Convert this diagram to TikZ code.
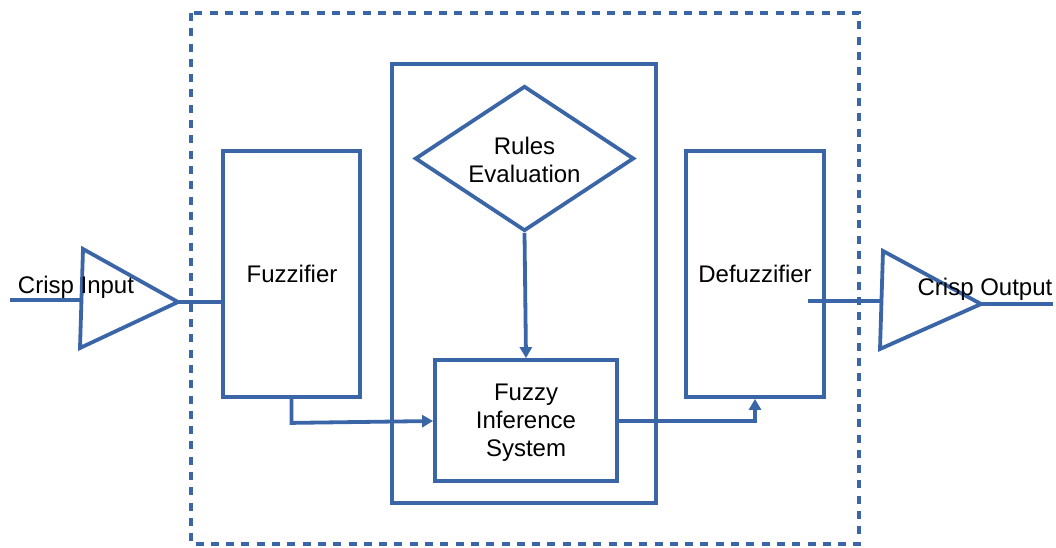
\documentclass[tikz,border=0pt]{standalone}
\usepackage{fontspec}
\setmainfont{Liberation Sans}
\usetikzlibrary{shapes.geometric,arrows.meta}
\definecolor{lineblue}{RGB}{58,102,168}
\begin{document}
\begin{tikzpicture}[x=1pt,y=-1pt,
  every node/.style={font=\fontsize{24}{28}\selectfont},
  blk/.style={draw=lineblue,line width=3.8pt,rectangle,inner sep=0pt,align=center},
  wire/.style={draw=lineblue,line width=3.8pt},
  arr/.style={wire,-{Triangle[width=12pt,length=11pt]}},
  lbl/.style={inner sep=0pt,align=center}]
\useasboundingbox (0,0) rectangle (1056,548);
% dashed outer boundary
\draw[lineblue,line width=3.8pt,dash pattern=on 8pt off 7.3pt] (191,13) rectangle (859,544);
% blocks
\node[blk,minimum width=137pt,minimum height=246pt] (fuzz) at (291.5,274) {};
\node[lbl] (fuzzt) at (292,274) {Fuzzifier};
\node[blk,minimum width=138pt,minimum height=246pt] (defuzz) at (755,274) {};
\node[lbl] (defuzzt) at (755,274) {Defuzzifier};
\node[blk,minimum width=264pt,minimum height=439pt] (inner) at (524,283.5) {};
\node[draw=lineblue,line width=3.8pt,diamond,inner sep=0pt,minimum width=219pt,minimum height=145pt] (rules) at (524.5,158.5) {};
\node[lbl] (rulest) at (524.5,160) {Rules\\Evaluation};
\node[blk,minimum width=182pt,minimum height=121pt] (fis) at (526,420.5) {};
\node[lbl] (fist) at (526,423) {Fuzzy\\Inference\\System};
% input triangle
\coordinate (ti1) at (83,249);
\coordinate (ti2) at (80,348);
\coordinate (tin) at (178,302);
\coordinate (inL) at (10,300);
\coordinate (inR) at (82,300);
\draw[wire,line join=miter] (ti1) -- (tin) -- (ti2) -- cycle;
\draw[wire] (inL) -- (inR);
\draw[wire] (tin) -- (fuzz.west |- tin);
\node[lbl] (cin) at (76,287) {Crisp Input};
% output triangle
\coordinate (to1) at (883,251);
\coordinate (to2) at (880,349);
\coordinate (tout) at (981,304);
\coordinate (outR) at (1053,304);
\coordinate (outL) at (808,301);
\coordinate (toin) at (883,301);
\draw[wire,line join=miter] (to1) -- (tout) -- (to2) -- cycle;
\draw[wire] (outL) -- (toin);
\draw[wire] (tout) -- (outR);
\node[lbl] (cout) at (985,289) {Crisp Output};
% connectors
\draw[arr] (rules.south) -- (fis.north);
\draw[arr] (fuzz.south) -- ++(0,24) -- (fis.west |- 0,421);
\draw[arr] (fis.east |- 0,421) -- (defuzz.south |- 0,421) -- (defuzz.south);
\end{tikzpicture}
\end{document}
